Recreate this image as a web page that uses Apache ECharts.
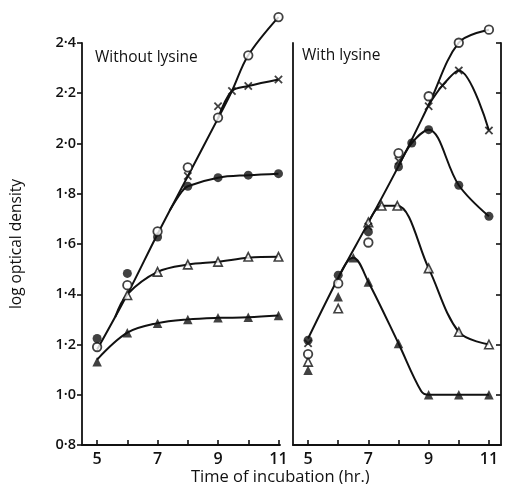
<!DOCTYPE html>
<html>
<head>
<meta charset="utf-8">
<script src="https://cdn.jsdelivr.net/npm/echarts@6/dist/echarts.min.js"></script>
<style>
  html, body { margin: 0; padding: 0; background: #fff; }
  #chart { width: 505px; height: 484px; }
</style>
</head>
<body>
<div id="chart"></div>
<script>
// ---- Without lysine: measured points (log optical density) ----
const hours = [5, 6, 7, 8, 9, 10, 11];
const noLysOpenCircle     = [1.19, 1.436, 1.65, 1.905, 2.103, 2.351, 2.503];
const noLysFilledCircle   = [1.224, 1.483, 1.628, 1.83, 1.864, 1.874, 1.88];
const noLysOpenTriangle   = [null, 1.396, 1.489, 1.518, 1.529, 1.549, 1.549];
const noLysFilledTriangle = [1.131, 1.247, 1.285, 1.30, 1.306, 1.308, 1.315];
const noLysCrossHours     = [8, 9, 9.46, 10, 11];
const noLysCross          = [1.871, 2.148, 2.209, 2.229, 2.255];

// Without lysine: drawn growth curves, [hour, value] knots
const noLysCurveMain           = [[5, 1.18], [6, 1.40], [7, 1.64], [8, 1.87], [9, 2.10], [9.46, 2.209], [10, 2.351], [11, 2.503]];
const noLysCurveCross          = [[9, 2.10], [9.46, 2.209], [10, 2.229], [11, 2.255]];
const noLysCurveFilledCircle   = [[7.4, 1.733], [7.8, 1.808], [8, 1.83], [9, 1.864], [10, 1.874], [11, 1.88]];
const noLysCurveOpenTriangle   = [[5.6, 1.31], [6, 1.40], [7, 1.489], [8, 1.518], [9, 1.529], [10, 1.545], [11, 1.549]];
const noLysCurveFilledTriangle = [[5, 1.14], [6, 1.247], [7, 1.285], [8, 1.30], [9, 1.306], [10, 1.308], [11, 1.315]];

// ---- With lysine: measured points ----
const lysOpenCircle            = [1.162, 1.443, 1.606, 1.962, 2.188, 2.401, 2.453];
const lysFilledCircleHours     = [5, 6, 7, 8, 8.44, 9, 10, 11];
const lysFilledCircle          = [1.217, 1.476, 1.648, 1.907, 2.002, 2.055, 1.834, 1.71];
const lysCrossHours            = [5, 7, 8, 9, 9.46, 10, 11];
const lysCross                 = [1.205, 1.67, 1.93, 2.148, 2.231, 2.291, 2.052];
const lysOpenTriangleHours     = [5, 6, 7, 7.44, 7.96, 9, 10, 11];
const lysOpenTriangle          = [1.131, 1.343, 1.686, 1.752, 1.752, 1.503, 1.25, 1.20];
const lysFilledTriangleHours   = [5, 6, 6.5, 7, 8, 9, 10, 11];
const lysFilledTriangle        = [1.098, 1.39, 1.545, 1.449, 1.204, 1.0, 1.0, 1.0];

// With lysine: drawn growth curves
const lysCurveMain           = [[5, 1.224], [6, 1.465], [7, 1.685], [8, 1.91], [9, 2.153], [10, 2.401], [11, 2.453]];
const lysCurveCross          = [[9, 2.153], [9.46, 2.231], [10, 2.291], [11, 2.052]];
const lysCurveFilledCircle   = [[8, 1.91], [8.44, 2.002], [9, 2.055], [10, 1.834], [11, 1.71]];
const lysCurveOpenTriangle   = [[7, 1.685], [7.44, 1.752], [7.96, 1.752], [9, 1.503], [10, 1.25], [11, 1.20]];
const lysCurveFilledTriangle = [[6, 1.465], [6.3, 1.53], [6.5, 1.545], [7, 1.449], [8, 1.204], [8.75, 1.015], [9, 1.0], [10, 1.0], [11, 1.0]];

// ---- tick labels ----
const xTickValues  = [5, 6, 7, 8, 9, 10, 11];
const xLabelValues = [5, 7, 9, 11];
const yTickValues  = [0.8, 1.0, 1.2, 1.4, 1.6, 1.8, 2.0, 2.2, 2.4];

const FONT = '"Open Sans", Lato, sans-serif';
const INK = '#111';

const crossPath = 'path://M0,1.5L1.5,0L5,3.5L8.5,0L10,1.5L6.5,5L10,8.5L8.5,10L5,6.5L1.5,10L0,8.5L3.5,5Z';

const markerStyles = {
  openCircle:     { symbol: 'circle',   symbolSize: 8.5, itemStyle: { color: '#fff', borderColor: INK, borderWidth: 1.8 } },
  filledCircle:   { symbol: 'circle',   symbolSize: 9,   itemStyle: { color: INK } },
  openTriangle:   { symbol: 'triangle', symbolSize: 8.5, itemStyle: { color: '#fff', borderColor: INK, borderWidth: 1.6 } },
  filledTriangle: { symbol: 'triangle', symbolSize: 9.5, itemStyle: { color: INK } },
  cross:          { symbol: crossPath,  symbolSize: 8.5, itemStyle: { color: INK } }
};

function pairs(xs, ys) {
  const out = [];
  xs.forEach((x, i) => { if (ys[i] != null) out.push([x, ys[i]]); });
  return out;
}

function curve(data, axis) {
  return {
    type: 'line', xAxisIndex: axis.x, yAxisIndex: axis.y, data: data,
    smooth: 0.35, symbol: 'none', clip: false, silent: true, z: 2,
    lineStyle: { color: INK, width: 2 }
  };
}

function marks(xs, ys, kind, axis) {
  const s = markerStyles[kind];
  return {
    type: 'scatter', xAxisIndex: axis.x, yAxisIndex: axis.y, data: pairs(xs, ys),
    symbol: s.symbol, symbolSize: s.symbolSize, itemStyle: s.itemStyle,
    clip: false, silent: true, z: 3
  };
}

const LEFT = { x: 0, y: 0 };
const RIGHT = { x: 1, y: 1 };

function xAxisFor(grid, max) {
  return {
    type: 'value', gridIndex: grid, min: 4.5, max: max, interval: 0.5,
    axisLine: { lineStyle: { color: INK, width: 1.8 } },
    axisTick: { inside: true, length: 5, customValues: xTickValues, lineStyle: { color: INK, width: 1.6 } },
    axisLabel: { customValues: xLabelValues, color: INK, fontSize: 16, fontWeight: 600, fontFamily: FONT, margin: 6 },
    splitLine: { show: false }
  };
}

const yFmt = v => v.toFixed(1).replace('.', '·');

const option = {
  backgroundColor: '#fff',
  animation: false,
  title: [
    { text: 'Without lysine', left: 90, top: 45, textStyle: { fontSize: 15.5, fontWeight: 500, color: INK, fontFamily: FONT } },
    { text: 'With lysine', left: 297, top: 43, textStyle: { fontSize: 15.5, fontWeight: 500, color: INK, fontFamily: FONT } },
    { text: 'Time of incubation (hr.)', left: 186, top: 464, textStyle: { fontSize: 16.5, fontWeight: 500, color: INK, fontFamily: FONT } }
  ],
  grid: [
    { left: 82, top: 43, width: 198, height: 402 },
    { left: 293, top: 43, width: 208, height: 402 }
  ],
  xAxis: [xAxisFor(0, 11.05), xAxisFor(1, 11.4)],
  yAxis: [
    {
      type: 'value', gridIndex: 0, min: 0.8, max: 2.4, interval: 0.2,
      name: 'log optical density', nameLocation: 'middle', nameGap: 57,
      nameTextStyle: { fontSize: 15.5, fontWeight: 500, color: INK, fontFamily: FONT },
      axisLine: { lineStyle: { color: INK, width: 1.8 } },
      axisTick: { inside: false, length: 5, customValues: yTickValues, lineStyle: { color: INK, width: 1.6 } },
      axisLabel: { customValues: yTickValues, formatter: yFmt, color: INK, fontSize: 14.5, fontWeight: 600, fontFamily: FONT, margin: 6 },
      splitLine: { show: false }
    },
    {
      type: 'value', gridIndex: 1, min: 0.8, max: 2.4, interval: 0.2, position: 'left',
      axisLine: { show: true, lineStyle: { color: INK, width: 1.8 } },
      axisTick: { show: false }, axisLabel: { show: false }, splitLine: { show: false }
    },
    {
      type: 'value', gridIndex: 1, min: 0.8, max: 2.4, interval: 0.2, position: 'right',
      axisLine: { show: true, lineStyle: { color: INK, width: 1.8 } },
      axisTick: { inside: true, length: 5, customValues: yTickValues, lineStyle: { color: INK, width: 1.6 } },
      axisLabel: { show: false }, splitLine: { show: false }
    }
  ],
  series: [
    // without lysine
    curve(noLysCurveMain, LEFT),
    curve(noLysCurveCross, LEFT),
    curve(noLysCurveFilledCircle, LEFT),
    curve(noLysCurveOpenTriangle, LEFT),
    curve(noLysCurveFilledTriangle, LEFT),
    marks(hours, noLysFilledTriangle, 'filledTriangle', LEFT),
    marks(hours, noLysOpenTriangle, 'openTriangle', LEFT),
    marks(hours, noLysFilledCircle, 'filledCircle', LEFT),
    marks(noLysCrossHours, noLysCross, 'cross', LEFT),
    marks(hours, noLysOpenCircle, 'openCircle', LEFT),
    // with lysine
    curve(lysCurveMain, RIGHT),
    curve(lysCurveCross, RIGHT),
    curve(lysCurveFilledCircle, RIGHT),
    curve(lysCurveOpenTriangle, RIGHT),
    curve(lysCurveFilledTriangle, RIGHT),
    marks(lysFilledTriangleHours, lysFilledTriangle, 'filledTriangle', RIGHT),
    marks(lysOpenTriangleHours, lysOpenTriangle, 'openTriangle', RIGHT),
    marks(lysCrossHours, lysCross, 'cross', RIGHT),
    marks(lysFilledCircleHours, lysFilledCircle, 'filledCircle', RIGHT),
    marks(hours, lysOpenCircle, 'openCircle', RIGHT)
  ]
};

const chart = echarts.init(document.getElementById('chart'), null, { renderer: 'canvas' });
chart.setOption(option);
</script>
</body>
</html>
